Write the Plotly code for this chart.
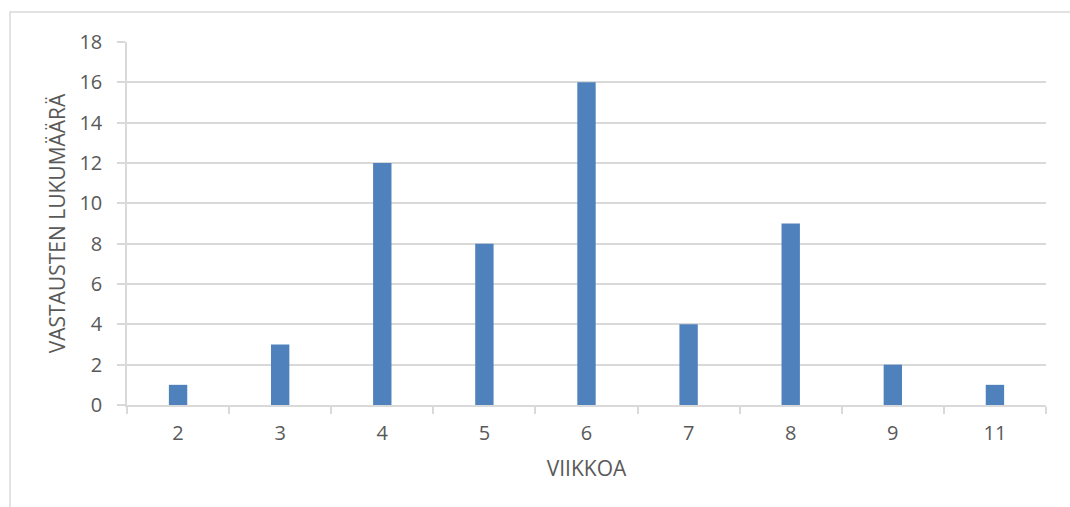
import plotly.graph_objects as go

# Vastausten jakauma viikkojen mukaan
weeks = ["2", "3", "4", "5", "6", "7", "8", "9", "11"]
counts = [1, 3, 12, 8, 16, 4, 9, 2, 1]
y_ticks = [0, 2, 4, 6, 8, 10, 12, 14, 16, 18]

W, H = 1070, 507
L, R, T, B = 127, 24, 42, 102
pw, ph = W - L - R, H - T - B

text_color = "#595959"
grid_color = "#D9D9D9"
font_family = "Open Sans, Liberation Sans, sans-serif"

fig = go.Figure(
    go.Bar(
        x=weeks,
        y=counts,
        marker=dict(color="#4F81BD", line=dict(width=0)),
    )
)

fig.update_layout(
    width=W,
    height=H,
    margin=dict(l=L, r=R, t=T, b=B),
    paper_bgcolor="white",
    plot_bgcolor="white",
    bargap=0.82,
    showlegend=False,
    font=dict(family=font_family, color=text_color, size=20),
)

fig.update_xaxes(
    type="category",
    showgrid=False,
    showline=True,
    linecolor=grid_color,
    linewidth=1.5,
    ticks="outside",
    tickson="boundaries",
    ticklen=7,
    tickcolor=grid_color,
    tickwidth=1.5,
    tickfont=dict(size=20, color=text_color),
    ticklabelstandoff=9,
    title=dict(text="VIIKKOA", font=dict(size=21, color=text_color), standoff=17),
)

fig.update_yaxes(
    range=[0, 18],
    tickvals=y_ticks,
    showgrid=True,
    gridcolor=grid_color,
    gridwidth=1.5,
    showline=True,
    linecolor=grid_color,
    linewidth=1.5,
    ticks="outside",
    ticklen=8,
    tickcolor=grid_color,
    tickwidth=1.5,
    tickfont=dict(size=20, color=text_color),
    ticklabelstandoff=11,
    zeroline=False,
    title=dict(text="VASTAUSTEN LUKUMÄÄRÄ", font=dict(size=21, color=text_color), standoff=8),
)

# Kaavion ulkoreunus
fig.add_shape(
    type="rect",
    xref="paper",
    yref="paper",
    x0=(10 - L) / pw,
    x1=(W + 10 - L) / pw,
    y0=(H - B - (H + 10)) / ph,
    y1=(H - B - 12) / ph,
    line=dict(color=grid_color, width=1.5),
    fillcolor="rgba(0,0,0,0)",
    layer="below",
)

fig.write_html("out.html")
